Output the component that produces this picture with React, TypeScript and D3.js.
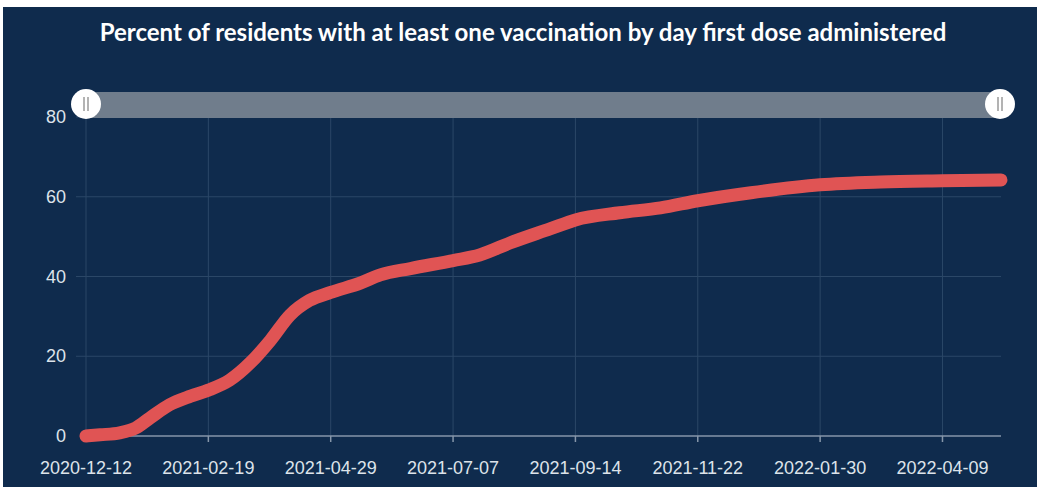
import React, { useEffect, useRef } from 'react';
import * as d3 from 'd3';

const title = 'Percent of residents with at least one vaccination by day first dose administered';

// cumulative % of residents with first dose
const dates = [
  '2020-12-12', '2020-12-20', '2020-12-31', '2021-01-09', '2021-01-17', '2021-01-28',
  '2021-02-09', '2021-02-19', '2021-03-03', '2021-03-15', '2021-03-26', '2021-04-06',
  '2021-04-17', '2021-04-29', '2021-05-16', '2021-05-27', '2021-06-13', '2021-07-07',
  '2021-07-22', '2021-08-08', '2021-08-31', '2021-09-14', '2021-10-09', '2021-11-01',
  '2021-11-22', '2021-12-22', '2022-01-30', '2022-03-05', '2022-04-09', '2022-05-12',
];
const percents = [
  0, 0.3, 0.8, 2, 4.5, 7.8,
  10, 11.5, 14, 18.5, 24, 30.3,
  34, 36, 38.4, 40.4, 42, 44,
  45.4, 48.4, 52, 54.2, 56, 57.2,
  59, 61, 63, 63.7, 64, 64.2,
];
const yTicks = [0, 20, 40, 60, 80];
const xTickLabels = [
  '2020-12-12', '2021-02-19', '2021-04-29', '2021-07-07',
  '2021-09-14', '2021-11-22', '2022-01-30', '2022-04-09',
];
const domainStart = '2020-12-12';
const domainEnd = '2022-05-12';

const App: React.FC = () => {
  const svgRef = useRef<SVGSVGElement>(null);

  useEffect(() => {
    if (!svgRef.current) return;
    const svg = d3.select(svgRef.current);
    svg.selectAll('*').remove();

    const width = 1037;
    const height = 487;
    const left = 86;
    const right = 1001;
    const top = 117;
    const bottom = 436;

    const bg = '#0f2b4d';
    const gridColor = '#2b4767';
    const axisColor = '#8696aa';
    const labelColor = '#dde3ea';
    const lineColor = '#e05454';
    const axisFont = '"Liberation Sans", Arial, sans-serif';

    const parse = d3.utcParse('%Y-%m-%d');

    const x = d3.scaleUtc()
      .domain([parse(domainStart)!, parse(domainEnd)!])
      .range([left, right]);
    const y = d3.scaleLinear().domain([0, 80]).range([bottom, top]);

    // white frame + panel
    svg.append('rect').attr('width', width).attr('height', height).attr('fill', '#ffffff');
    svg.append('rect')
      .attr('x', 3).attr('y', 7)
      .attr('width', width - 3).attr('height', height - 7)
      .attr('fill', bg);

    // title
    svg.append('text')
      .attr('x', 523)
      .attr('y', 41)
      .attr('text-anchor', 'middle')
      .attr('font-family', 'Lato, sans-serif')
      .attr('font-weight', 'bold')
      .attr('font-size', 24)
      .attr('fill', '#ffffff')
      .text(title);

    // horizontal grid + y labels
    yTicks.forEach(v => {
      if (v > 0) {
        svg.append('line')
          .attr('x1', left - 10).attr('x2', right)
          .attr('y1', y(v)).attr('y2', y(v))
          .attr('stroke', gridColor).attr('stroke-width', 1);
      }
      svg.append('text')
        .attr('x', 66)
        .attr('y', y(v) + 6)
        .attr('text-anchor', 'end')
        .attr('font-family', axisFont)
        .attr('font-size', 18)
        .attr('fill', labelColor)
        .text(v);
    });

    // vertical grid, ticks, x labels
    xTickLabels.forEach(t => {
      const xp = x(parse(t)!);
      svg.append('line')
        .attr('x1', xp).attr('x2', xp)
        .attr('y1', top).attr('y2', bottom)
        .attr('stroke', gridColor).attr('stroke-width', 1);
      svg.append('line')
        .attr('x1', xp).attr('x2', xp)
        .attr('y1', bottom).attr('y2', bottom + 6)
        .attr('stroke', axisColor).attr('stroke-width', 1.5);
      svg.append('text')
        .attr('x', xp)
        .attr('y', 474)
        .attr('text-anchor', 'middle')
        .attr('font-family', axisFont)
        .attr('font-size', 18)
        .attr('fill', labelColor)
        .text(t);
    });

    // x axis line
    svg.append('line')
      .attr('x1', left).attr('x2', right)
      .attr('y1', bottom).attr('y2', bottom)
      .attr('stroke', axisColor).attr('stroke-width', 1.5);

    // data line
    const pts: [Date, number][] = dates.map((d, i) => [parse(d)!, percents[i]]);
    const line = d3.line<[Date, number]>()
      .x(d => x(d[0]))
      .y(d => y(d[1]))
      .curve(d3.curveMonotoneX);
    svg.append('path')
      .attr('d', line(pts))
      .attr('fill', 'none')
      .attr('stroke', lineColor)
      .attr('stroke-width', 13)
      .attr('stroke-linecap', 'round')
      .attr('stroke-linejoin', 'round');

    // range slider
    const sliderY = 105;
    svg.append('rect')
      .attr('x', left).attr('y', sliderY - 13)
      .attr('width', right - left).attr('height', 26)
      .attr('fill', '#707d8c');
    [left, right - 1].forEach(hx => {
      svg.append('circle')
        .attr('cx', hx).attr('cy', sliderY - 1).attr('r', 15)
        .attr('fill', '#ffffff');
      [-2, 2].forEach(dx => {
        svg.append('line')
          .attr('x1', hx + dx).attr('x2', hx + dx)
          .attr('y1', sliderY - 8).attr('y2', sliderY + 6)
          .attr('stroke', '#9a9a9a').attr('stroke-width', 1.5);
      });
    });
  }, []);

  return (
    <div style={{ position: 'fixed', left: 0, top: 0 }}>
      <svg ref={svgRef} width={1037} height={487} style={{ display: 'block' }}></svg>
    </div>
  );
};

export default App;
